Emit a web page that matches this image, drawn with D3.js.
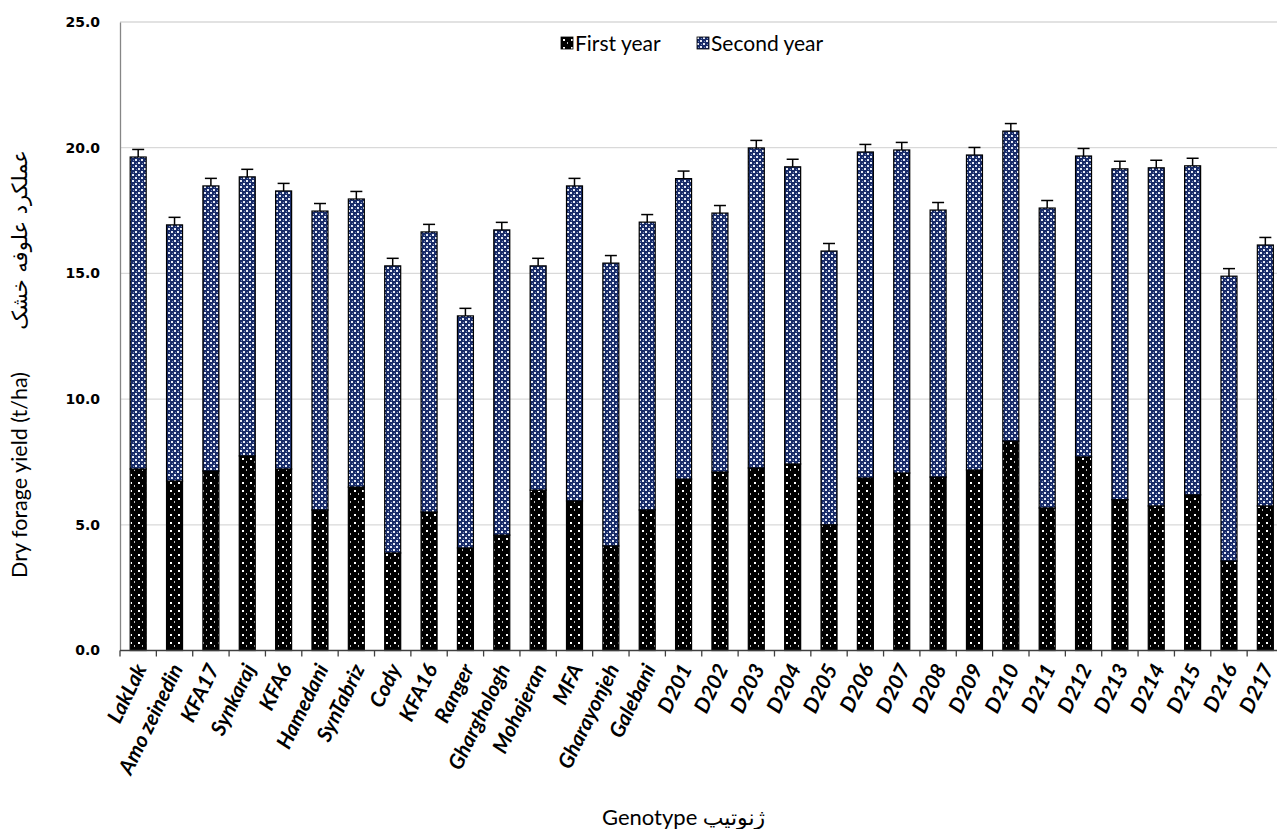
<!DOCTYPE html>
<html>
<head>
<meta charset="utf-8">
<script src="https://cdn.jsdelivr.net/npm/d3@7"></script>
<style>
  html, body { margin: 0; padding: 0; background: #fff; }
  svg { display: block; }
</style>
</head>
<body>
<svg id="chart" width="1277" height="829"></svg>
<script>
// Genotypes and dry forage yield (t/ha) for the two harvest years
const genotypes = ["LakLak", "Amo zeinedin", "KFA17", "Synkaraj", "KFA6", "Hamedani", "SynTabriz",
  "Cody", "KFA16", "Ranger", "Gharghologh", "Mohajeran", "MFA", "Gharayonjeh", "Galebani",
  "D201", "D202", "D203", "D204", "D205", "D206", "D207", "D208", "D209", "D210",
  "D211", "D212", "D213", "D214", "D215", "D216", "D217"];

const firstYear = [7.22, 6.74, 7.14, 7.74, 7.22, 5.59, 6.50, 3.88, 5.51, 4.08, 4.59, 6.38, 5.95, 4.16, 5.59,
  6.82, 7.10, 7.26, 7.42, 5.00, 6.86, 7.06, 6.90, 7.18, 8.33, 5.67, 7.70, 6.00, 5.75, 6.19, 3.56, 5.75];

const secondYear = [12.41, 10.19, 11.34, 11.10, 11.06, 11.89, 11.46, 11.42, 11.14, 9.23, 12.14, 8.92, 12.53, 11.25, 11.45,
  11.95, 10.30, 12.73, 11.82, 10.89, 12.97, 12.85, 10.62, 12.53, 12.33, 11.93, 11.97, 13.16, 13.45, 13.09, 11.33, 10.38];

// Standard error of the two-year total
const totalError = [0.3, 0.3, 0.3, 0.3, 0.3, 0.3, 0.3, 0.3, 0.3, 0.3, 0.3, 0.3, 0.3, 0.3, 0.3,
  0.3, 0.3, 0.3, 0.3, 0.3, 0.3, 0.3, 0.3, 0.3, 0.3, 0.3, 0.3, 0.3, 0.3, 0.3, 0.3, 0.3];

const seriesNames = ["First year", "Second year"];
const yTicks = [0, 5, 10, 15, 20, 25];

const svg = d3.select("#chart");
const margin = { left: 120, top: 22, bottom: 650.5 };
const bandW = 36.36;

const x = d3.scaleBand()
  .domain(genotypes)
  .range([margin.left, margin.left + bandW * genotypes.length])
  .paddingInner(0.56)
  .paddingOuter(0.28);

const y = d3.scaleLinear().domain([0, 25]).range([margin.bottom, margin.top]);

// Fill patterns
const defs = svg.append("defs");
const p1 = defs.append("pattern").attr("id", "patFirst")
  .attr("patternUnits", "userSpaceOnUse").attr("width", 8).attr("height", 8);
p1.append("rect").attr("width", 8).attr("height", 8).attr("fill", "#000");
p1.append("rect").attr("x", 2).attr("y", 2).attr("width", 2).attr("height", 2).attr("fill", "#fff");
p1.append("rect").attr("x", 6).attr("y", 5).attr("width", 1).attr("height", 2).attr("fill", "#bbb");

const p2 = defs.append("pattern").attr("id", "patSecond")
  .attr("patternUnits", "userSpaceOnUse").attr("width", 6).attr("height", 6);
p2.append("rect").attr("width", 6).attr("height", 6).attr("fill", "#182b68");
p2.append("rect").attr("x", 0).attr("y", 0).attr("width", 2).attr("height", 2).attr("fill", "#e8ecf5");
p2.append("rect").attr("x", 3).attr("y", 3).attr("width", 2).attr("height", 2).attr("fill", "#e8ecf5");
p2.append("rect").attr("x", 1).attr("y", 4).attr("width", 1).attr("height", 1).attr("fill", "#6f84ba");
p2.append("rect").attr("x", 4).attr("y", 1).attr("width", 1).attr("height", 1).attr("fill", "#6f84ba");

// Gridlines
svg.append("g").selectAll("line").data(yTicks.filter(d => d > 0)).join("line")
  .attr("x1", margin.left).attr("x2", 1277)
  .attr("y1", d => y(d)).attr("y2", d => y(d))
  .attr("stroke", "#d9d9d9").attr("stroke-width", 1.3);

// Y axis labels
const yAxis = d3.axisLeft(y).tickValues(yTicks).tickFormat(d3.format(".1f")).tickSize(0).tickPadding(20);
const gy = svg.append("g").attr("transform", `translate(${margin.left},0)`).call(yAxis);
gy.select(".domain").attr("stroke", "#868686").attr("stroke-width", 1.3);
gy.selectAll("text").attr("font-family", "DejaVu Sans").attr("font-weight", "bold")
  .attr("font-size", 14).attr("fill", "#000");

// Stacked bars
const stackData = genotypes.map((g, i) => ({ g, "First year": firstYear[i], "Second year": secondYear[i] }));
const stacked = d3.stack().keys(seriesNames)(stackData);
const fills = { "First year": "url(#patFirst)", "Second year": "url(#patSecond)" };

svg.append("g").selectAll("g").data(stacked).join("g")
  .attr("fill", d => fills[d.key])
  .selectAll("rect").data(d => d).join("rect")
  .attr("x", d => x(d.data.g))
  .attr("width", x.bandwidth())
  .attr("y", d => y(d[1]))
  .attr("height", d => y(d[0]) - y(d[1]))
  .attr("stroke", "#000").attr("stroke-width", 1.2);

// Error bars on the totals
const eb = svg.append("g").attr("stroke", "#000").attr("stroke-width", 1.5);
genotypes.forEach((g, i) => {
  const cx = x(g) + x.bandwidth() / 2;
  const top = firstYear[i] + secondYear[i];
  eb.append("line").attr("x1", cx).attr("x2", cx).attr("y1", y(top)).attr("y2", y(top + totalError[i]));
  eb.append("line").attr("x1", cx - 6).attr("x2", cx + 6)
    .attr("y1", y(top + totalError[i])).attr("y2", y(top + totalError[i]));
});

// X axis
const gx = svg.append("g").attr("transform", `translate(0,${margin.bottom})`);
gx.append("line").attr("x1", margin.left).attr("x2", 1277).attr("stroke", "#404040").attr("stroke-width", 1.3);
gx.selectAll("line.tick").data(d3.range(genotypes.length + 1)).join("line")
  .attr("class", "tick")
  .attr("x1", i => margin.left + i * x.step()).attr("x2", i => margin.left + i * x.step())
  .attr("y1", 0).attr("y2", 6).attr("stroke", "#404040").attr("stroke-width", 1.3);
gx.selectAll("text").data(genotypes).join("text")
  .attr("transform", g => `translate(${x(g) + x.bandwidth() / 2 + 9},${18}) rotate(-64)`)
  .attr("text-anchor", "end")
  .attr("font-family", "Lato, 'Open Sans', sans-serif")
  .attr("font-weight", "bold").attr("font-style", "italic")
  .attr("font-size", 21).attr("fill", "#000")
  .text(g => g);

// Axis titles
svg.append("text")
  .attr("transform", "translate(27,578) rotate(-90)")
  .attr("font-family", "Lato, sans-serif").attr("font-size", 21.5).attr("fill", "#000")
  .text("Dry forage yield (t/ha)");
svg.append("text")
  .attr("transform", "translate(27,240) rotate(-90)")
  .attr("text-anchor", "middle").attr("direction", "rtl")
  .attr("font-family", "'DejaVu Sans', sans-serif").attr("font-size", 21).attr("fill", "#000")
  .text("عملکرد علوفه خشک");

svg.append("text").attr("x", 602).attr("y", 825)
  .attr("font-family", "Lato, sans-serif").attr("font-size", 22).attr("fill", "#000")
  .text("Genotype");
svg.append("text").attr("x", 734).attr("y", 825)
  .attr("text-anchor", "middle").attr("direction", "rtl")
  .attr("font-family", "'DejaVu Sans', sans-serif").attr("font-size", 22).attr("fill", "#000")
  .text("ژنوتیپ");

// Legend
const legend = svg.append("g").attr("transform", "translate(561,37)");
const legendX = [0, 136];
seriesNames.forEach((s, i) => {
  const lg = legend.append("g").attr("transform", `translate(${legendX[i]},0)`);
  lg.append("rect").attr("width", 12).attr("height", 12).attr("fill", fills[s])
    .attr("stroke", "#000").attr("stroke-width", 0.8);
  lg.append("text").attr("x", 14).attr("y", 13.5)
    .attr("font-family", "Lato, sans-serif").attr("font-size", 21).attr("fill", "#000")
    .text(s);
});
</script>
</body>
</html>
